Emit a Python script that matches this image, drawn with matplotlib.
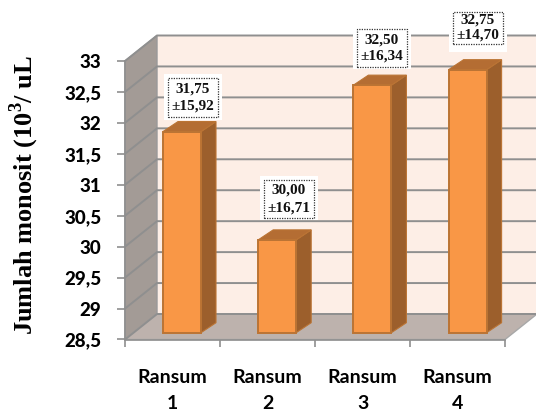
import matplotlib
matplotlib.use('Agg')
import matplotlib.pyplot as plt
from matplotlib.patches import Polygon, Rectangle

categories = ['Ransum\n1', 'Ransum\n2', 'Ransum\n3', 'Ransum\n4']
means = [31.75, 30.00, 32.50, 32.75]
errors = ['15,92', '16,71', '16,34', '14,70']
y_ticks = [28.5, 29, 29.5, 30, 30.5, 31, 31.5, 32, 32.5, 33]
y_tick_labels = ['28,5', '29', '29,5', '30', '30,5', '31', '31,5', '32', '32,5', '33']

# label box centre relative to the top of the bar front, in pixels
label_dx = [11, 11.5, 9.5, 10]
label_dy = [34, 41, 37, 42]
box_h = [39, 38, 38, 32]
# how far the white backing reaches below the dotted box
back_below = [3, 2, 2, 8]
line_sp = [1.4, 1.45, 1.3, 1.15]

plt.rcParams['mathtext.fontset'] = 'custom'
plt.rcParams['mathtext.bf'] = 'Liberation Serif:bold'

W, H = 536, 412
fig = plt.figure(figsize=(W / 100, H / 100), dpi=100)
ax = fig.add_axes([125 / W, 1 - 339.5 / H, 380 / W, 278.5 / H])
ax.set_xlim(0, 4)
ax.set_ylim(28.5, 33)

# pixel sizes expressed in data units
px_x = 4 / 380
px_y = 4.5 / 278.5

wall_dx, wall_dy = 32 * px_x, 25.5 * px_y
bar_x0, bar_w = 38 * px_x, 38 * px_x
bar_dx, bar_dy = 15 * px_x, 10 * px_y
base_dy = 6.8 * px_y
bar_step = 95.2 * px_x

kw = dict(clip_on=False)
GRID = '#8f8f8f'
EDGE = '#bb7434'

# back wall, side wall and floor of the 3D box
ax.add_patch(Polygon([(wall_dx, 28.5 + wall_dy), (4 + wall_dx, 28.5 + wall_dy),
                      (4 + wall_dx, 33 + wall_dy), (wall_dx, 33 + wall_dy)],
                     fc='#fdeee6', ec='none', zorder=1, **kw))
ax.add_patch(Polygon([(0, 28.5), (wall_dx, 28.5 + wall_dy), (wall_dx, 33 + wall_dy), (0, 33)],
                     fc='#a39b96', ec='#999999', lw=1, zorder=1.2, **kw))
ax.add_patch(Polygon([(0, 28.5), (wall_dx, 28.5 + wall_dy), (4 + wall_dx, 28.5 + wall_dy), (4, 28.5)],
                     fc='#bdb2ad', ec='#a8a8a8', lw=1, zorder=1.2, **kw))

# gridlines run along the side wall and then across the back wall
for t in y_ticks:
    ax.plot([0, wall_dx, 4 + wall_dx], [t, t + wall_dy, t + wall_dy], color=GRID, lw=1.4,
            zorder=1.5, solid_joinstyle='miter', **kw)

# bars: front, top and side faces
for i, v in enumerate(means):
    x0 = bar_x0 + i * bar_step
    x1 = x0 + bar_w
    y0 = 28.5 + base_dy
    # the axis starts at 28.5, so the raised base shifts the whole bar up
    top = v + base_dy
    ax.bar(x0, v - 28.5, bar_w, bottom=y0, align='edge', color='#f99746', edgecolor=EDGE,
           linewidth=1.4, zorder=3, **kw)
    ax.add_patch(Polygon([(x1, y0), (x1 + bar_dx, y0 + bar_dy), (x1 + bar_dx, top + bar_dy), (x1, top)],
                         fc='#9c5f2c', ec=EDGE, lw=0.8, zorder=2.8, **kw))
    ax.add_patch(Polygon([(x0, top), (x0 + bar_dx, top + bar_dy), (x1 + bar_dx, top + bar_dy), (x1, top)],
                         fc='#b46d33', ec=EDGE, lw=0.8, zorder=2.8, **kw))

    # value label in a dotted box on a white backing
    cx = x0 + bar_w / 2 + label_dx[i] * px_x
    cy = top + label_dy[i] * px_y
    half_h = box_h[i] / 2
    ax.add_patch(Rectangle((cx - 29 * px_x, cy - (half_h + back_below[i]) * px_y), 58 * px_x,
                           (box_h[i] + back_below[i] + 4) * px_y, fc='white', ec='none', zorder=4, **kw))
    ax.add_patch(Rectangle((cx - 25 * px_x, cy - half_h * px_y), 50 * px_x, box_h[i] * px_y,
                           fc='white', ec='#333333', lw=0.9, ls=(0, (1, 1)), zorder=4.2, **kw))
    ax.text(cx, cy, '{:.2f}\n±{}'.format(v, errors[i]).replace('.', ','), ha='center', va='center',
            family='Liberation Serif', fontweight='bold', fontsize=11, linespacing=line_sp[i],
            color='#111111', zorder=5)

for s in ['top', 'right']:
    ax.spines[s].set_visible(False)
for s in ['left', 'bottom']:
    ax.spines[s].set_color('#8f8f8f')
    ax.spines[s].set_linewidth(1.2)
    ax.spines[s].set_zorder(2)

ax.set_yticks(y_ticks)
ax.set_yticklabels(y_tick_labels, family='Lato', fontweight='black', fontsize=13.5)
ax.tick_params(axis='y', length=6, width=1.2, color='#8f8f8f', pad=11)

# tick marks on category edges, labels centred between them
ax.set_xticks(range(5))
ax.set_xticklabels([])
ax.tick_params(axis='x', length=5, width=1.2, color='#8f8f8f')
ax.set_xticks([i + 0.5 for i in range(4)], minor=True)
ax.set_xticklabels(categories, minor=True, family='Lato', fontweight='bold', fontsize=14, linespacing=1.68)
ax.tick_params(axis='x', which='minor', length=0, pad=21)

fig.text(24 / W, 1 - 194.5 / H, r'Jumlah monosit (10$^{\mathbf{3}}$/ uL', rotation=90, ha='center', va='center',
         family='Liberation Serif', fontweight='bold', fontsize=19)

fig.savefig('out.png', dpi=100)
